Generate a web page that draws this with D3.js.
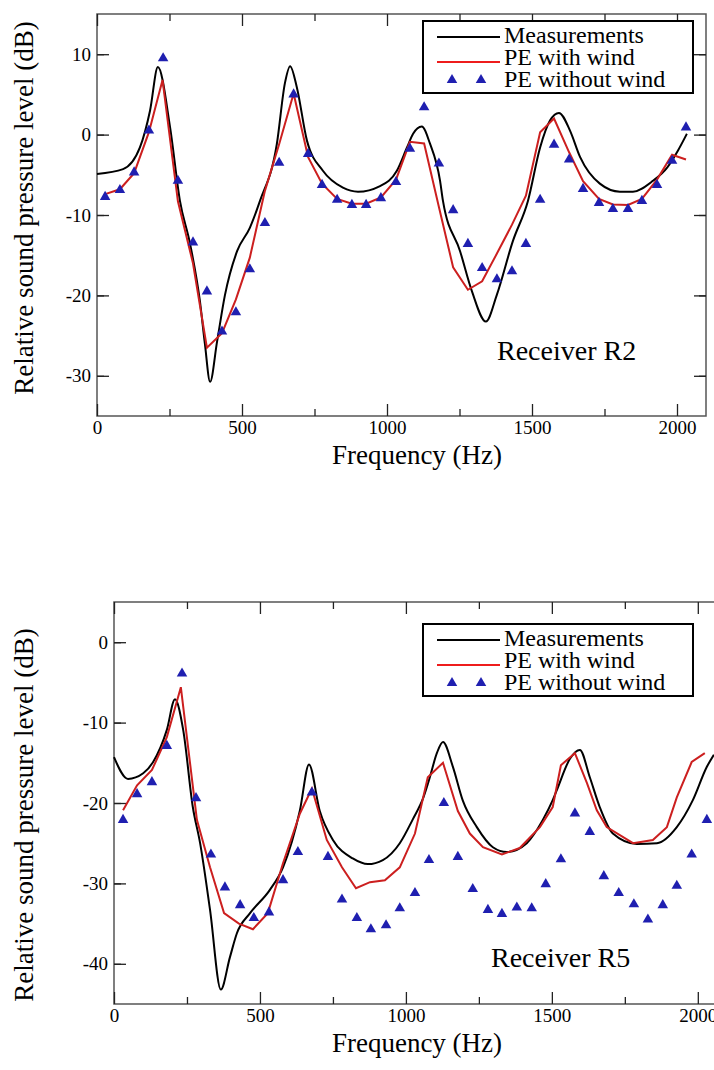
<!DOCTYPE html>
<html>
<head>
<meta charset="utf-8">
<script src="https://cdn.jsdelivr.net/npm/d3@7"></script>
<style>
  body { margin: 0; background: #fff; }
  svg text { font-family: "Liberation Serif", "Times New Roman", Times, Tinos, "Nimbus Roman", "DejaVu Serif", "Noto Serif", serif; fill: #000; }
</style>
</head>
<body>
<svg id="chart" width="714" height="1070"></svg>
<script>
// ---- data: receiver R2 (top panel) [frequency Hz, level dB]
var r2Measurements = [[0,-4.9],[90,-4.3],[148,-1.6],[183,3],[210,8.4],[252,0.9],[286,-8.25],[321,-13.6],[355,-20.75],[372,-26],[390,-30.75],[414,-25.75],[441,-20],[483,-14.5],[527,-11.6],[562,-8.25],[620,-1.2],[648,6.4],[666,8.5],[689,5.9],[724,-0.75],[779,-4.5],[848,-6.6],[900,-7.1],[976,-6.4],[1034,-4.5],[1069,-1.6],[1090,0.1],[1120,1],[1148,-1.1],[1183,-5.75],[1193,-8.25],[1252,-14.5],[1293,-19.5],[1341,-23.25],[1379,-19.9],[1434,-13.25],[1486,-8.25],[1528,-1.6],[1562,1.75],[1593,2.7],[1631,0.5],[1666,-2.8],[1734,-6.1],[1803,-7.1],[1848,-7.1],[1917,-5.75],[1966,-4.1],[2003,-2],[2034,0.1]];
var r2WithWind = [[28,-7.4],[79,-6.8],[128,-4.8],[179,0.3],[226,6.8],[279,-8.3],[331,-16],[379,-26.5],[431,-24.7],[479,-20.5],[527,-15.3],[579,-7],[628,-1.2],[678,5.1],[728,-2.8],[776,-6.1],[828,-8],[879,-8.6],[928,-8.6],[979,-7.8],[1031,-5.6],[1079,-0.9],[1128,-1.1],[1179,-9],[1228,-16.5],[1279,-19.3],[1328,-18.25],[1379,-14.8],[1431,-11.2],[1479,-7.6],[1528,0.3],[1576,2],[1628,-2.2],[1676,-5.8],[1731,-8],[1779,-8.7],[1831,-8.75],[1879,-8],[1931,-5.6],[1983,-2.5],[2031,-3.1]];
var r2WithoutWind = [[28,-7.75],[79,-6.9],[128,-4.7],[179,0.5],[228,9.5],[279,-5.75],[331,-13.4],[379,-19.5],[431,-24.5],[479,-22.1],[527,-16.75],[579,-11],[628,-3.5],[678,5],[728,-2.4],[776,-6.25],[828,-8.1],[879,-8.75],[928,-8.75],[979,-7.9],[1031,-5.9],[1079,-1.75],[1128,3.4],[1179,-3.6],[1228,-9.4],[1279,-13.6],[1328,-16.6],[1379,-18],[1431,-17],[1479,-13.6],[1528,-8.1],[1576,-1.25],[1628,-3.1],[1676,-6.75],[1731,-8.5],[1779,-9.25],[1831,-9.25],[1879,-8.25],[1931,-6.25],[1983,-3.25],[2031,0.9]];

// ---- data: receiver R5 (bottom panel)
var r5Measurements = [[0,-14.3],[48,-17],[100,-16.3],[134,-14.9],[181,-10.9],[209,-7.1],[237,-10.9],[270,-20.5],[295,-25],[329,-33.3],[366,-43.2],[397,-39.2],[421,-36.2],[466,-33.7],[534,-30.8],[579,-28],[637,-20.9],[668,-15.2],[705,-21],[750,-24.6],[818,-26.9],[870,-27.6],[921,-27.1],[979,-25],[1024,-22],[1060,-19.3],[1082,-16.8],[1106,-13.8],[1127,-12.4],[1161,-15.5],[1195,-19.7],[1243,-23],[1298,-25.5],[1346,-26.1],[1414,-25],[1469,-22.1],[1503,-19.65],[1517,-18.4],[1562,-14.5],[1596,-13.4],[1630,-16.8],[1664,-20.5],[1709,-23.8],[1791,-25.1],[1860,-25],[1928,-23],[1983,-19.65],[2031,-15.5],[2055,-14]];
var r5WithWind = [[31,-20.9],[79,-17.8],[130,-15.9],[181,-11.8],[229,-5.6],[284,-22.1],[329,-28],[377,-33.7],[428,-35],[476,-35.7],[527,-33.7],[579,-27.5],[637,-21.3],[678,-18.2],[729,-24.6],[781,-28],[829,-30.6],[877,-29.85],[928,-29.6],[979,-28],[1031,-23.8],[1075,-16.8],[1127,-15],[1178,-21],[1219,-23.8],[1264,-25.5],[1329,-26.4],[1390,-25.6],[1459,-23],[1503,-20.5],[1531,-15.3],[1579,-13.8],[1620,-17.5],[1654,-20.9],[1688,-23],[1778,-25],[1846,-24.6],[1894,-23],[1928,-19.3],[1979,-14.9],[2024,-13.8]];
var r5WithoutWind = [[31,-22.1],[79,-18.9],[130,-17.4],[181,-12.9],[233,-3.9],[281,-19.4],[332,-26.4],[380,-30.5],[432,-32.7],[479,-34.3],[531,-33.6],[579,-29.6],[630,-26.1],[678,-18.7],[733,-26.7],[781,-32],[832,-34.3],[880,-35.7],[932,-35.2],[979,-33.1],[1031,-31.2],[1079,-27.1],[1130,-20],[1178,-26.7],[1229,-30.7],[1281,-33.3],[1329,-33.8],[1380,-33],[1431,-33.1],[1479,-30.1],[1531,-27],[1579,-21.3],[1630,-23.6],[1678,-29.1],[1729,-31.2],[1781,-32.6],[1829,-34.5],[1880,-32.7],[1928,-30.3],[1979,-26.4],[2031,-22.1]];

var legendLabels = ['Measurements', 'PE with wind', 'PE without wind'];
var xMajorTicks = [0, 500, 1000, 1500, 2000];
var xMinorTicks = [250, 750, 1250, 1750];
var r2YTicks = [-30, -20, -10, 0, 10];
var r5YTicks = [-40, -30, -20, -10, 0];

var svg = d3.select('#chart');
var serif = '"Liberation Serif", "Times New Roman", Times, Tinos, "Nimbus Roman", "DejaVu Serif", "Noto Serif", serif';

function drawPanel(p) {
    var x = d3.scaleLinear().domain([0, 2100]).range([p.left, p.left + 613 * p.xStretch]);
    var y = d3.scaleLinear().domain(p.yDomain).range([p.bottom, p.top]);
    var g = svg.append('g');

    // frame
    g.append('rect')
        .attr('x', x(0)).attr('y', p.top)
        .attr('width', x(2100) - x(0)).attr('height', p.bottom - p.top)
        .attr('fill', 'none').attr('stroke', '#555').attr('stroke-width', 1.5);

    var yMinor = d3.range(p.yDomain[0] + 5, p.yDomain[1], 10);

    function styleAxis(sel) {
        sel.select('.domain').remove();
        sel.selectAll('line').attr('stroke', '#222').attr('stroke-width', 1.3);
        sel.selectAll('text').attr('font-family', serif).attr('font-size', 19).attr('fill', '#111');
    }

    // bottom axis
    g.append('g').attr('transform', `translate(0,${p.bottom})`)
        .call(d3.axisBottom(x).tickValues(xMajorTicks).tickSize(-12).tickSizeOuter(0).tickPadding(5).tickFormat(d => String(d)))
        .call(styleAxis);
    g.append('g').attr('transform', `translate(0,${p.bottom})`)
        .call(d3.axisBottom(x).tickValues(xMinorTicks).tickSize(-7).tickFormat(''))
        .call(styleAxis);
    // top axis (ticks only)
    g.append('g').attr('transform', `translate(0,${p.top})`)
        .call(d3.axisTop(x).tickValues(xMajorTicks).tickSize(-12).tickFormat(''))
        .call(styleAxis);
    g.append('g').attr('transform', `translate(0,${p.top})`)
        .call(d3.axisTop(x).tickValues(xMinorTicks).tickSize(-7).tickFormat(''))
        .call(styleAxis);
    // left axis
    g.append('g').attr('transform', `translate(${x(0)},0)`)
        .call(d3.axisLeft(y).tickValues(p.yTicks).tickSize(-12).tickPadding(6).tickFormat(d => String(d)))
        .call(styleAxis);
    g.append('g').attr('transform', `translate(${x(0)},0)`)
        .call(d3.axisLeft(y).tickValues(yMinor).tickSize(-7).tickFormat(''))
        .call(styleAxis);
    // right axis (ticks only)
    g.append('g').attr('transform', `translate(${x(2100)},0)`)
        .call(d3.axisRight(y).tickValues(p.yTicks).tickSize(-12).tickFormat(''))
        .call(styleAxis);
    g.append('g').attr('transform', `translate(${x(2100)},0)`)
        .call(d3.axisRight(y).tickValues(yMinor).tickSize(-7).tickFormat(''))
        .call(styleAxis);

    // series
    var smooth = d3.line().x(d => x(d[0])).y(d => y(d[1])).curve(d3.curveMonotoneX);
    var straight = d3.line().x(d => x(d[0])).y(d => y(d[1]));
    g.append('path').attr('d', smooth(p.meas))
        .attr('fill', 'none').attr('stroke', '#000').attr('stroke-width', 2);
    g.append('path').attr('d', straight(p.wind))
        .attr('fill', 'none').attr('stroke', '#cc1f1f').attr('stroke-width', 2);
    var tri = d3.symbol().type(d3.symbolTriangle).size(48);
    g.selectAll('.tri').data(p.noWind).join('path')
        .attr('class', 'tri')
        .attr('d', tri)
        .attr('transform', d => `translate(${x(d[0])},${y(d[1])})`)
        .attr('fill', '#1f1fb0');

    // legend
    var lg = g.append('g').attr('transform', `translate(423,${p.legendTop})`);
    lg.append('rect').attr('width', 270).attr('height', 72)
        .attr('fill', '#fff').attr('stroke', '#000').attr('stroke-width', 2);
    lg.append('line').attr('x1', 14).attr('x2', 77).attr('y1', 16).attr('y2', 16)
        .attr('stroke', '#000').attr('stroke-width', 2);
    lg.append('line').attr('x1', 14).attr('x2', 77).attr('y1', 41).attr('y2', 41)
        .attr('stroke', '#ee1c1c').attr('stroke-width', 2);
    lg.selectAll('.ltri').data([29, 58]).join('path')
        .attr('class', 'ltri').attr('d', tri)
        .attr('transform', d => `translate(${d},59)`)
        .attr('fill', '#1f1fb0');
    lg.selectAll('.ltxt').data(legendLabels).join('text')
        .attr('class', 'ltxt')
        .attr('x', 81)
        .attr('y', (d, i) => 22 + i * 22)
        .attr('font-size', 24)
        .text(d => d);

    // receiver label
    g.append('text').attr('x', p.labelX).attr('y', p.labelY)
        .attr('font-size', 28).text(p.label);

    // axis titles
    g.append('text').attr('x', 417).attr('y', p.bottom + 48)
        .attr('text-anchor', 'middle').attr('font-size', 27)
        .text('Frequency (Hz)');
    g.append('text')
        .attr('transform', `translate(33,${p.yTitleCenter}) rotate(-90)`)
        .attr('text-anchor', 'middle').attr('font-size', 27)
        .text('Relative sound pressure level (dB)');
}

drawPanel({
    left: 97, xStretch: 609 / 613, top: 14, bottom: 416, yDomain: [-35, 15], yTicks: r2YTicks,
    meas: r2Measurements, wind: r2WithWind, noWind: r2WithoutWind,
    legendTop: 21, label: 'Receiver R2', labelX: 497, labelY: 360, yTitleCenter: 208
});
drawPanel({
    left: 114, xStretch: 1, top: 602, bottom: 1004, yDomain: [-45, 5], yTicks: r5YTicks,
    meas: r5Measurements, wind: r5WithWind, noWind: r5WithoutWind,
    legendTop: 624, label: 'Receiver R5', labelX: 491, labelY: 967, yTitleCenter: 815
});
</script>
</body>
</html>
